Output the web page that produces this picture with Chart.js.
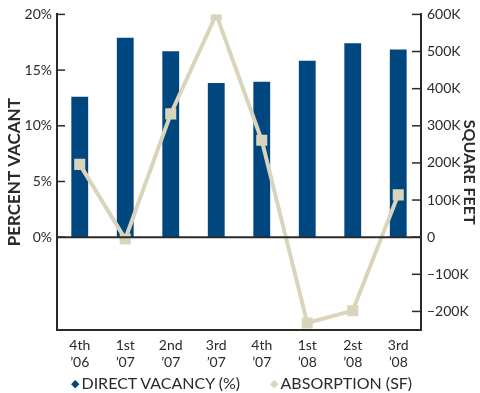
<!DOCTYPE html>
<html>
<head>
<meta charset="utf-8">
<script src="https://cdn.jsdelivr.net/npm/chart.js@4"></script>
<style>
  html, body { margin: 0; padding: 0; background: #fff; overflow: hidden; }
  #wrap { position: relative; width: 480px; height: 393px; }
  #legend { position: absolute; left: 71px; top: 373px; white-space: nowrap; line-height: 20px;
            font: 16px Lato, "DejaVu Sans", sans-serif; color: #2a2a2a; }
  #legend span.item { display: inline-block; }
  #legend span.mark { font-size: 11px; vertical-align: 2px; margin-right: 2px; }
</style>
</head>
<body>
<div id="wrap">
  <canvas id="chart" width="480" height="393"></canvas>
  <div id="legend"></div>
</div>
<script>
const quarters = [['4th', '\u201906'], ['1st', '\u201907'], ['2nd', '\u201907'], ['3rd', '\u201907'],
                  ['4th', '\u201907'], ['1st', '\u201908'], ['2st', '\u201908'], ['3rd', '\u201908']];
const directVacancy = [12.6, 17.9, 16.7, 13.85, 13.95, 15.85, 17.4, 16.85];
const absorption = [196000, -5000, 332000, 600000, 261000, -231000, -198000, 114000];
const vacancyTicks = [0, 5, 10, 15, 20];
const absorptionTicks = [-200000, -100000, 0, 100000, 200000, 300000, 400000, 500000, 600000];

const ink = '#2a2a2a';
const barColor = '#00467f';
const lineColor = '#d9d5bd';
const font = { family: 'Lato, "DejaVu Sans", sans-serif', size: 14 };

// tick marks point into the plot, so they are drawn here
const innerTicks = {
  id: 'innerTicks',
  afterDraw(chart) {
    const ctx = chart.ctx;
    const yl = chart.scales.y, yr = chart.scales.y2;
    ctx.save();
    ctx.strokeStyle = ink;
    ctx.lineWidth = 1.5;
    vacancyTicks.forEach(v => {
      const y = yl.getPixelForValue(v);
      ctx.beginPath(); ctx.moveTo(yl.right, y); ctx.lineTo(yl.right + 8, y); ctx.stroke();
    });
    absorptionTicks.forEach(v => {
      const y = yr.getPixelForValue(v);
      ctx.beginPath(); ctx.moveTo(yr.left, y); ctx.lineTo(yr.left - 9, y); ctx.stroke();
    });
    // zero line
    const y0 = yl.getPixelForValue(0);
    ctx.lineWidth = 2;
    ctx.beginPath(); ctx.moveTo(chart.chartArea.left, y0); ctx.lineTo(chart.chartArea.right, y0); ctx.stroke();
    ctx.restore();
  }
};

const chart = new Chart(document.getElementById('chart'), {
  type: 'bar',
  data: {
    labels: quarters,
    datasets: [
      {
        type: 'line',
        label: 'ABSORPTION (SF)',
        data: absorption,
        yAxisID: 'y2',
        borderColor: lineColor,
        backgroundColor: lineColor,
        borderWidth: 4,
        pointStyle: 'rect',
        pointRadius: 5,
        tension: 0,
        order: 0
      },
      {
        label: 'DIRECT VACANCY (%)',
        data: directVacancy,
        yAxisID: 'y',
        backgroundColor: barColor,
        barPercentage: 0.37,
        categoryPercentage: 1,
        order: 1
      }
    ]
  },
  options: {
    responsive: false,
    animation: false,
    layout: { padding: { top: 11, left: 0, right: 0, bottom: 25 } },
    plugins: {
      legend: { display: false },
      tooltip: { enabled: false }
    },
    scales: {
      x: {
        grid: { display: false, drawTicks: false },
        border: { color: ink, width: 2 },
        ticks: { color: ink, font: font, maxRotation: 0, padding: 7 },
        afterFit(s) { s.height = 38; }
      },
      y: {
        position: 'left',
        min: -25 / 3,
        max: 20,
        grid: { display: false, drawTicks: false },
        border: { color: ink, width: 2 },
        afterBuildTicks(s) { s.ticks = vacancyTicks.map(v => ({ value: v })); },
        ticks: { color: ink, font: font, padding: 5, callback: v => v + '%' },
        title: {
          display: true,
          text: 'PERCENT VACANT',
          color: ink,
          font: { family: font.family, size: 17, weight: 'bold' },
          padding: { top: 4, bottom: 0 }
        },
        afterFit(s) { s.width = 57; }
      },
      y2: {
        position: 'right',
        min: -250000,
        max: 600000,
        grid: { display: false, drawTicks: false },
        border: { color: ink, width: 2 },
        afterBuildTicks(s) { s.ticks = absorptionTicks.map(v => ({ value: v })); },
        ticks: {
          color: ink, font: font, padding: 6,
          callback: v => v === 0 ? '0' : (v < 0 ? '\u2212' + (-v / 1000) + 'K' : (v / 1000) + 'K')
        },
        title: {
          display: true,
          text: 'SQUARE FEET',
          color: ink,
          font: { family: font.family, size: 16, weight: 'bold' },
          padding: { top: 1, bottom: 0 }
        },
        afterFit(s) { s.width = 59; }
      }
    }
  },
  plugins: [innerTicks]
});

// legend as plain text below the axis, built from the chart's datasets
const legend = document.getElementById('legend');
[...chart.data.datasets].reverse().forEach((ds, i) => {
  const item = document.createElement('span');
  item.className = 'item';
  if (i > 0) item.style.marginLeft = '30px';
  const mark = document.createElement('span');
  mark.className = 'mark';
  mark.style.color = ds.backgroundColor;
  mark.textContent = '\u25C6';
  item.appendChild(mark);
  item.appendChild(document.createTextNode(ds.label));
  legend.appendChild(item);
});
</script>
</body>
</html>
